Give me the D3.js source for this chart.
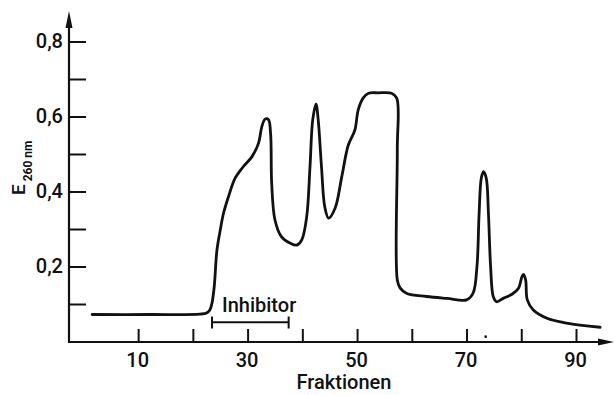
<!DOCTYPE html>
<html>
<head>
<meta charset="utf-8">
<script src="https://cdn.jsdelivr.net/npm/d3@7"></script>
<style>
  body { margin: 0; background: #fff; }
  svg text { font-family: Roboto, "Noto Sans", sans-serif; font-weight: 500; fill: #111; }
</style>
</head>
<body>
<svg id="chart" width="615" height="395"></svg>
<script>
// elution profile, E260 per fraction
var fraction = [1.6, 12.2, 21.3, 22.5, 23.1, 23.5, 23.9, 24.4, 25.0, 25.6, 26.5, 27.7, 29.2, 30.8, 32.0,
  32.6, 33.2, 33.8, 34.2, 34.4, 35.0, 36.2, 37.8, 39.0, 39.9, 40.8, 41.4, 41.9, 42.5, 42.9,
  43.5, 44.1, 44.8, 46.0, 47.2, 48.4, 49.6, 50.2, 51.1, 52.1, 53.9, 56.3, 57.25, 57.35, 57.35,
  57.85, 59.1, 62.7, 66.4, 70.0, 71.2, 71.9, 72.3, 72.7, 73.1, 73.6, 74.0, 74.4, 74.9, 75.5,
  76.7, 78.3, 79.5, 80.1, 80.4, 80.8, 81.1, 82.2, 84.7, 88.3, 94.4]
var extinction = [0.072, 0.072, 0.073, 0.076, 0.084, 0.103, 0.146, 0.244, 0.297, 0.342, 0.386, 0.435, 0.466, 0.493, 0.529,
  0.573, 0.593, 0.592, 0.555, 0.422, 0.324, 0.279, 0.262, 0.257, 0.271, 0.333, 0.466, 0.591, 0.633, 0.591,
  0.466, 0.359, 0.329, 0.356, 0.439, 0.524, 0.564, 0.617, 0.649, 0.662, 0.663, 0.662, 0.649, 0.511, 0.164,
  0.143, 0.128, 0.120, 0.115, 0.111, 0.129, 0.199, 0.342, 0.436, 0.453, 0.436, 0.342, 0.199, 0.119, 0.106,
  0.115, 0.126, 0.142, 0.172, 0.179, 0.164, 0.111, 0.084, 0.062, 0.049, 0.038]

var xTicks = [10, 20, 30, 40, 50, 60, 70, 80, 90]
var xTickLabels = [10, 30, 50, 70, 90]
var yTicks = [0.1, 0.2, 0.3, 0.4, 0.5, 0.6, 0.7, 0.8]
var yTickLabels = [0.2, 0.4, 0.6, 0.8]
var inhibitorRange = [23.5, 37.5]
var markFraction = [73.5]

var svg = d3.select('#chart')

var x = d3.scaleLinear().domain([0, 90]).range([83.4, 576])
var y = d3.scaleLinear().domain([0, 0.8]).range([341.5, 41.5])

var comma = function(d) { return d3.format(".1f")(d).replace(".", ",") }

// x axis (ticks pointing up)
var gx = svg.append("g").attr("transform", "translate(0,342)")
  .call(d3.axisBottom(x).tickValues(xTicks).tickSizeInner(-13).tickSizeOuter(0).tickPadding(11)
    .tickFormat(function(d) { return xTickLabels.indexOf(d) >= 0 ? d : "" }))
gx.select(".domain").remove()
gx.selectAll("line").attr("stroke", "#111").attr("stroke-width", 2)
gx.selectAll("text").style("font-size", "20px").attr("dx", "-1")
gx.attr("font-family", null).attr("font-size", null)

// y axis (ticks pointing right)
var gy = svg.append("g").attr("transform", "translate(69,0)")
  .call(d3.axisLeft(y).tickValues(yTicks).tickSizeInner(-17).tickSizeOuter(0).tickPadding(6)
    .tickFormat(function(d) { return yTickLabels.indexOf(d) >= 0 ? comma(d) : "" }))
gy.select(".domain").remove()
gy.selectAll("line").attr("stroke", "#111").attr("stroke-width", 2)
gy.selectAll("text").style("font-size", "20px")
gy.attr("font-family", null).attr("font-size", null)

// axis lines with arrows
svg.append("line").attr("x1", 69).attr("y1", 343).attr("x2", 69).attr("y2", 24).attr("stroke", "#111").attr("stroke-width", 2.2)
svg.append("path").attr("d", "M69,11 L65.5,28 L72.5,28 Z").attr("fill", "#111")
svg.append("line").attr("x1", 68).attr("y1", 342).attr("x2", 602).attr("y2", 342).attr("stroke", "#111").attr("stroke-width", 2.2)
svg.append("path").attr("d", "M614,342 L598,338.5 L598,345.5 Z").attr("fill", "#111")

// curve
var line = d3.line()
  .x(function(d, i) { return x(fraction[i]) })
  .y(function(d) { return y(d) })
  .curve(d3.curveCatmullRom.alpha(0.5))

svg.append("path").datum(extinction).attr("d", line)
  .attr("fill", "none").attr("stroke", "#111").attr("stroke-width", 2.8)
  .attr("stroke-linejoin", "round").attr("stroke-linecap", "round")

// inhibitor bracket
var bx1 = x(inhibitorRange[0]), bx2 = x(inhibitorRange[1])
svg.append("line").attr("x1", bx1).attr("y1", 322.3).attr("x2", bx2).attr("y2", 322.3).attr("stroke", "#111").attr("stroke-width", 2)
svg.append("line").attr("x1", bx1).attr("y1", 316.5).attr("x2", bx1).attr("y2", 328.5).attr("stroke", "#111").attr("stroke-width", 2)
svg.append("line").attr("x1", bx2).attr("y1", 316.5).attr("x2", bx2).attr("y2", 328.5).attr("stroke", "#111").attr("stroke-width", 2)
svg.append("text").attr("x", bx1 + 10).attr("y", 311.5).text("Inhibitor").style("font-size", "20px")

// small mark below the curve
svg.selectAll(".mark").data(markFraction).enter().append("circle")
  .attr("cx", function(d) { return x(d) }).attr("cy", y(0.013)).attr("r", 1.3).attr("fill", "#111")

// axis titles
svg.append("text").attr("x", 344).attr("y", 389).attr("text-anchor", "middle").text("Fraktionen").style("font-size", "20px")

var yl = svg.append("text").attr("transform", "translate(25,195) rotate(-90)").style("font-size", "19px")
yl.append("tspan").text("E")
yl.append("tspan").attr("dx", 3).attr("dy", 6.5).style("font-size", "12px").style("font-weight", "bold").text("260 nm")
</script>
</body>
</html>
